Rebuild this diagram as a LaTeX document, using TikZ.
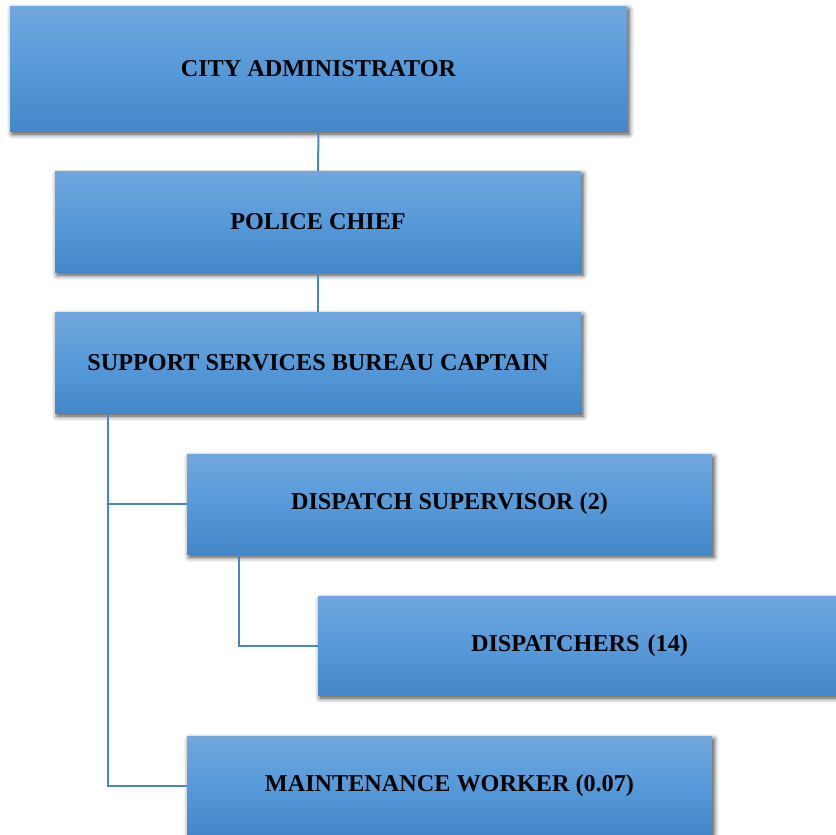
\documentclass[tikz,border=0pt]{standalone}
\usepackage{fontspec}
\setmainfont{Liberation Serif}
\usetikzlibrary{shadows.blur}
\definecolor{boxtop}{HTML}{70A7DD}
\definecolor{boxmid}{HTML}{569AD9}
\definecolor{boxbot}{HTML}{4487C8}
\definecolor{conncol}{HTML}{4A86C4}
\tikzset{
  orgbox/.style={rectangle, inner sep=0pt, outer sep=0pt,
    top color=boxtop, bottom color=boxbot, middle color=boxmid,
    blur shadow={shadow xshift=2pt, shadow yshift=-3pt, shadow blur radius=5pt, shadow opacity=75},
    font=\bfseries\fontsize{24.2}{29}\selectfont, text=black},
  conn/.style={draw=conncol, line width=2pt}
}
\begin{document}
\begin{tikzpicture}[x=1pt,y=-1pt]
\useasboundingbox (0,0) rectangle (836,835);
\node[orgbox, minimum width=617pt, minimum height=125pt] (a) at (318.5,68.5) {CITY ADMINISTRATOR};
\node[orgbox, minimum width=526pt, minimum height=101pt] (b) at (318,221.5) {POLICE CHIEF};
\node[orgbox, minimum width=526pt, minimum height=101pt] (c) at (318,362.5) {SUPPORT SERVICES BUREAU CAPTAIN};
\node[orgbox, minimum width=525pt, minimum height=100pt] (d) at (449.5,504) {DISPATCH SUPERVISOR (2)};
\node[orgbox, minimum width=520pt, minimum height=99pt, text width=520pt, align=center] (e) at (578,645.5) {\hspace*{3pt}DISPATCHERS (14)};
\node[orgbox, minimum width=525pt, minimum height=99pt] (f) at (449.5,785.5) {MAINTENANCE WORKER (0.07)};
\draw[conn] (a.south) -- (b.north);
\draw[conn] (b.south) -- (c.north);
\draw[conn] ([xshift=53pt]c.south west) |- (d.west);
\draw[conn] ([xshift=53pt]c.south west) |- (f.west);
\draw[conn] ([xshift=52pt]d.south west) |- (e.west);
\end{tikzpicture}
\end{document}
